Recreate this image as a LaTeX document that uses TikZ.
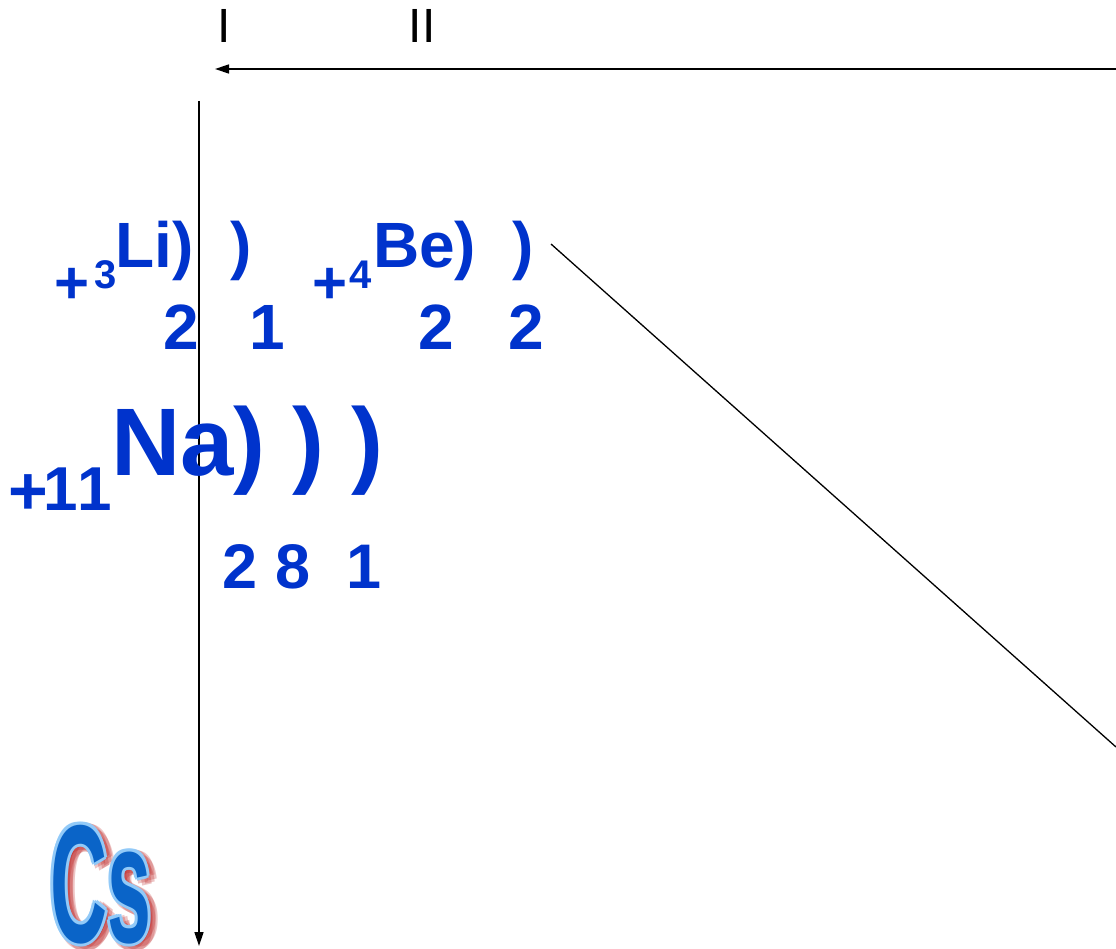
\documentclass[tikz,border=0pt]{standalone}
\usepackage{fontspec}
\setmainfont{Liberation Sans}
\usetikzlibrary{arrows.meta}
\definecolor{elblue}{HTML}{0033CC}
\definecolor{csblue}{HTML}{0A64C8}
\definecolor{cslight}{HTML}{92CAF8}
\definecolor{csred}{HTML}{B81818}
\newcommand\fsz[1]{\fontsize{#1}{#1}\selectfont}
\newcommand\cstext{\scalebox{0.47}[1]{Cs}}
\tikzset{
  grp/.style={font=\fsz{48}, inner sep=0pt, anchor=base},
  el/.style={font=\bfseries\fsz{64}, text=elblue, inner sep=0pt, anchor=base},
  elw/.style={el, anchor=base west},
  chg/.style={el, font=\bfseries\fsz{60}},
  sub/.style={el, font=\bfseries\fsz{40}},
  big/.style={el, font=\bfseries\fsz{96}},
  cs/.style={font=\bfseries\fsz{168}, inner sep=0pt, anchor=base west},
  arr/.style={-{Triangle[length=14pt, width=9pt]}, line width=1.4pt},
  ln/.style={line width=1.3pt},
}
\begin{document}
\begin{tikzpicture}[x=1pt, y=-1pt]
  \useasboundingbox (0,0) rectangle (1116,949);
  % group numbers
  \node[grp] (gI) at (224,43) {I};
  \node[grp] (gII) at (422,43) {II};
  % axes
  \coordinate (hR) at (1116,69);
  \coordinate (hL) at (215,69);
  \coordinate (vT) at (199,101);
  \coordinate (vB) at (199,946);
  \coordinate (dA) at (551,244);
  \coordinate (dB) at (1116,747);
  \draw[arr] (hR) -- (hL);
  \draw[arr] (vT) -- (vB);
  \draw[ln] (dA) -- (dB);
  % lithium
  \node[chg] (liP) at (72,304) {+};
  \node[sub] (liZ) at (106,289) {3};
  \node[elw] (li) at (115,268) {Li)};
  \node[el] (liS) at (241,268) {)};
  % beryllium
  \node[chg] (beP) at (330,304) {+};
  \node[sub] (beZ) at (361,289) {4};
  \node[elw] (be) at (373,268) {Be)};
  \node[el] (beS) at (523,268) {)};
  \foreach \xx/\nm/\t in {181/liA/2, 267/liB/1, 436/beA/2, 526/beB/2}
    \node[el] (\nm) at (\xx,350) {\t};
  % sodium
  \node[chg, font=\bfseries\fsz{68}] (naP) at (28,514) {+};
  \node[el, font=\bfseries\fsz{62}] (naZ) at (61,510) {1};
  \node[el, font=\bfseries\fsz{62}] (naY) at (95,510) {1};
  \node[big, anchor=base west] (na) at (111,475) {Na)};
  \node[big] (naS) at (308,475) {)};
  \node[big] (naT) at (367,475) {)};
  \foreach \xx/\nm/\t in {240/naA/2, 293/naB/8, 364/naC/1}
    \node[el, font=\bfseries\fsz{63}] (\nm) at (\xx,588) {\t};
  % caesium
  \foreach \a in {0,45,...,315}
    \node[cs, text=csred, opacity=.25, shift={(\a:5)}] at (55,945) {\cstext};
  \foreach \a in {0,45,...,315}
    \node[cs, text=cslight, shift={(\a:3)}] at (50,942) {\cstext};
  \node[cs, text=csblue] (cs) at (50,942) {\cstext};
\end{tikzpicture}
\end{document}
